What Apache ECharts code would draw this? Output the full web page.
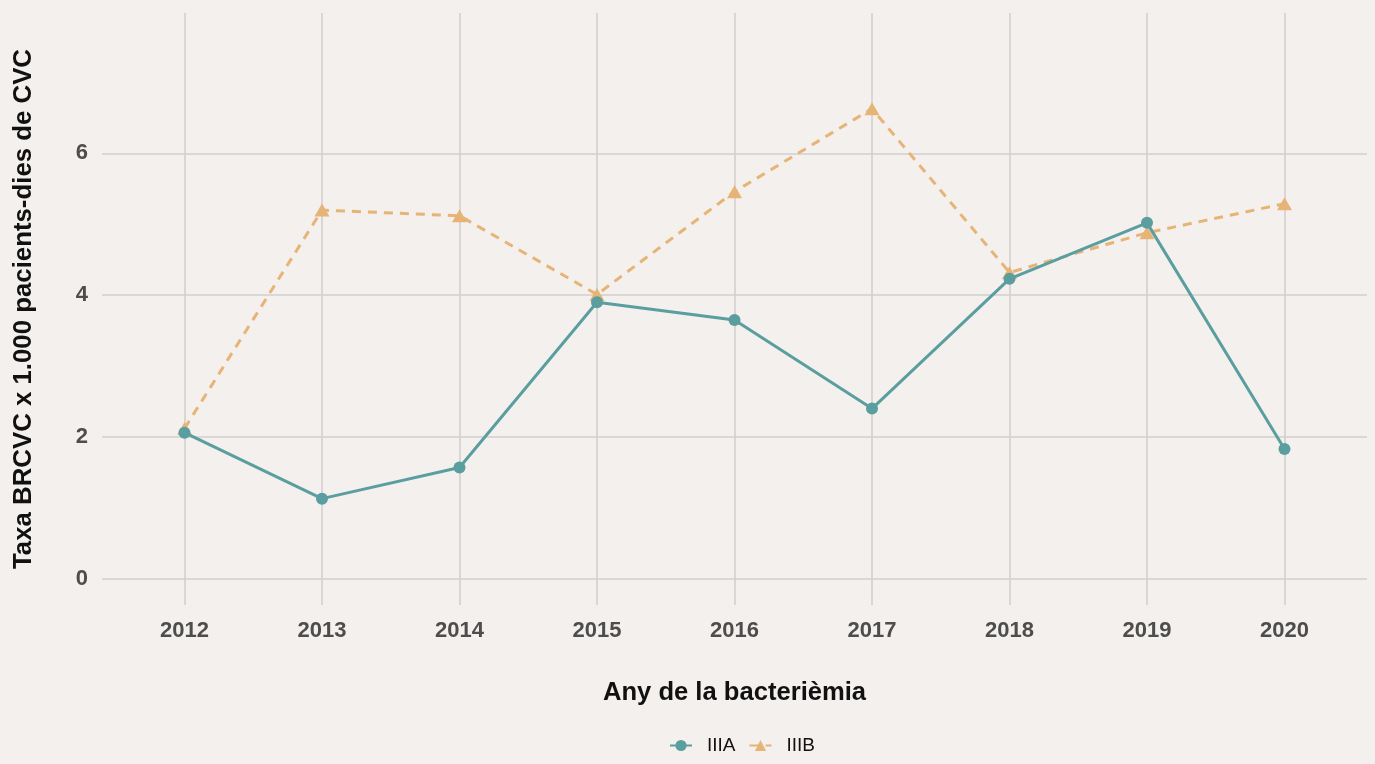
<!DOCTYPE html>
<html>
<head>
<meta charset="utf-8">
<script src="https://cdn.jsdelivr.net/npm/echarts@6/dist/echarts.min.js"></script>
<style>
  html, body { margin: 0; padding: 0; background: #F4F0ED; }
  #chart { width: 1375px; height: 764px; }
</style>
</head>
<body>
<div id="chart"></div>
<script>
// Bloodstream infection rate per 1,000 catheter-days, by year and unit
const years = [2012, 2013, 2014, 2015, 2016, 2017, 2018, 2019, 2020];
const seriesNames = ['IIIA', 'IIIB'];
const valuesIIIA = [2.06, 1.13, 1.57, 3.90, 3.65, 2.40, 4.23, 5.02, 1.83];
const valuesIIIB = [2.12, 5.20, 5.12, 4.01, 5.46, 6.63, 4.32, 4.88, 5.29];
const yTicks = [0, 2, 4, 6];

const teal = '#5B9EA0';
const sand = '#E6B476';
const gridColor = '#D2D0CF';
const tickText = '#4D4D4D';
const font = 'Liberation Sans, Arial, sans-serif';

const pairs = (vals) => years.map((y, i) => [y, vals[i]]);

const chart = echarts.init(document.getElementById('chart'), null, { renderer: 'canvas' });
chart.setOption({
  backgroundColor: '#F4F0ED',
  animation: false,
  grid: { left: 102, right: 8, top: 13, bottom: 159, containLabel: false },
  xAxis: {
    type: 'value',
    min: 2011.4,
    max: 2020.6,
    name: 'Any de la bacterièmia',
    nameLocation: 'middle',
    nameGap: 75,
    nameTextStyle: { fontFamily: font, fontSize: 25.6, fontWeight: 'bold', color: '#111' },
    axisLine: { show: false },
    axisTick: { show: false, customValues: years },
    axisLabel: {
      customValues: years,
      margin: 15,
      fontFamily: font, fontSize: 22, fontWeight: 'bold', color: tickText,
      formatter: (v) => String(v)
    },
    splitLine: { show: true, lineStyle: { color: gridColor, width: 1.6 } }
  },
  yAxis: {
    type: 'value',
    min: -0.37,
    max: 7.98,
    name: 'Taxa BRCVC x 1.000 pacients-dies de CVC',
    nameLocation: 'middle',
    nameGap: 65,
    nameTextStyle: { fontFamily: font, fontSize: 25.8, fontWeight: 'bold', color: '#111' },
    axisLine: { show: false },
    axisTick: { show: false, customValues: yTicks },
    axisLabel: {
      customValues: yTicks,
      margin: 14,
      fontFamily: font, fontSize: 22, fontWeight: 'bold', color: tickText,
      formatter: (v) => String(v)
    },
    splitLine: { show: true, lineStyle: { color: gridColor, width: 1.6 } }
  },
  legend: {
    data: seriesNames,
    bottom: 4,
    left: 664,
    itemWidth: 22,
    itemHeight: 14,
    itemGap: 13,
    textStyle: { fontFamily: font, fontSize: 19, color: '#111', padding: [0, 0, 0, 10] }
  },
  series: [
    {
      name: seriesNames[0],
      type: 'line',
      data: pairs(valuesIIIA),
      symbol: 'circle',
      symbolSize: 12,
      z: 3,
      lineStyle: { color: teal, width: 3 },
      itemStyle: { color: teal }
    },
    {
      name: seriesNames[1],
      type: 'line',
      data: pairs(valuesIIIB),
      symbol: 'triangle',
      symbolSize: [15, 13],
      z: 2,
      lineStyle: { color: sand, width: 3, type: [9, 7] },
      itemStyle: { color: sand }
    }
  ]
});
</script>
</body>
</html>
